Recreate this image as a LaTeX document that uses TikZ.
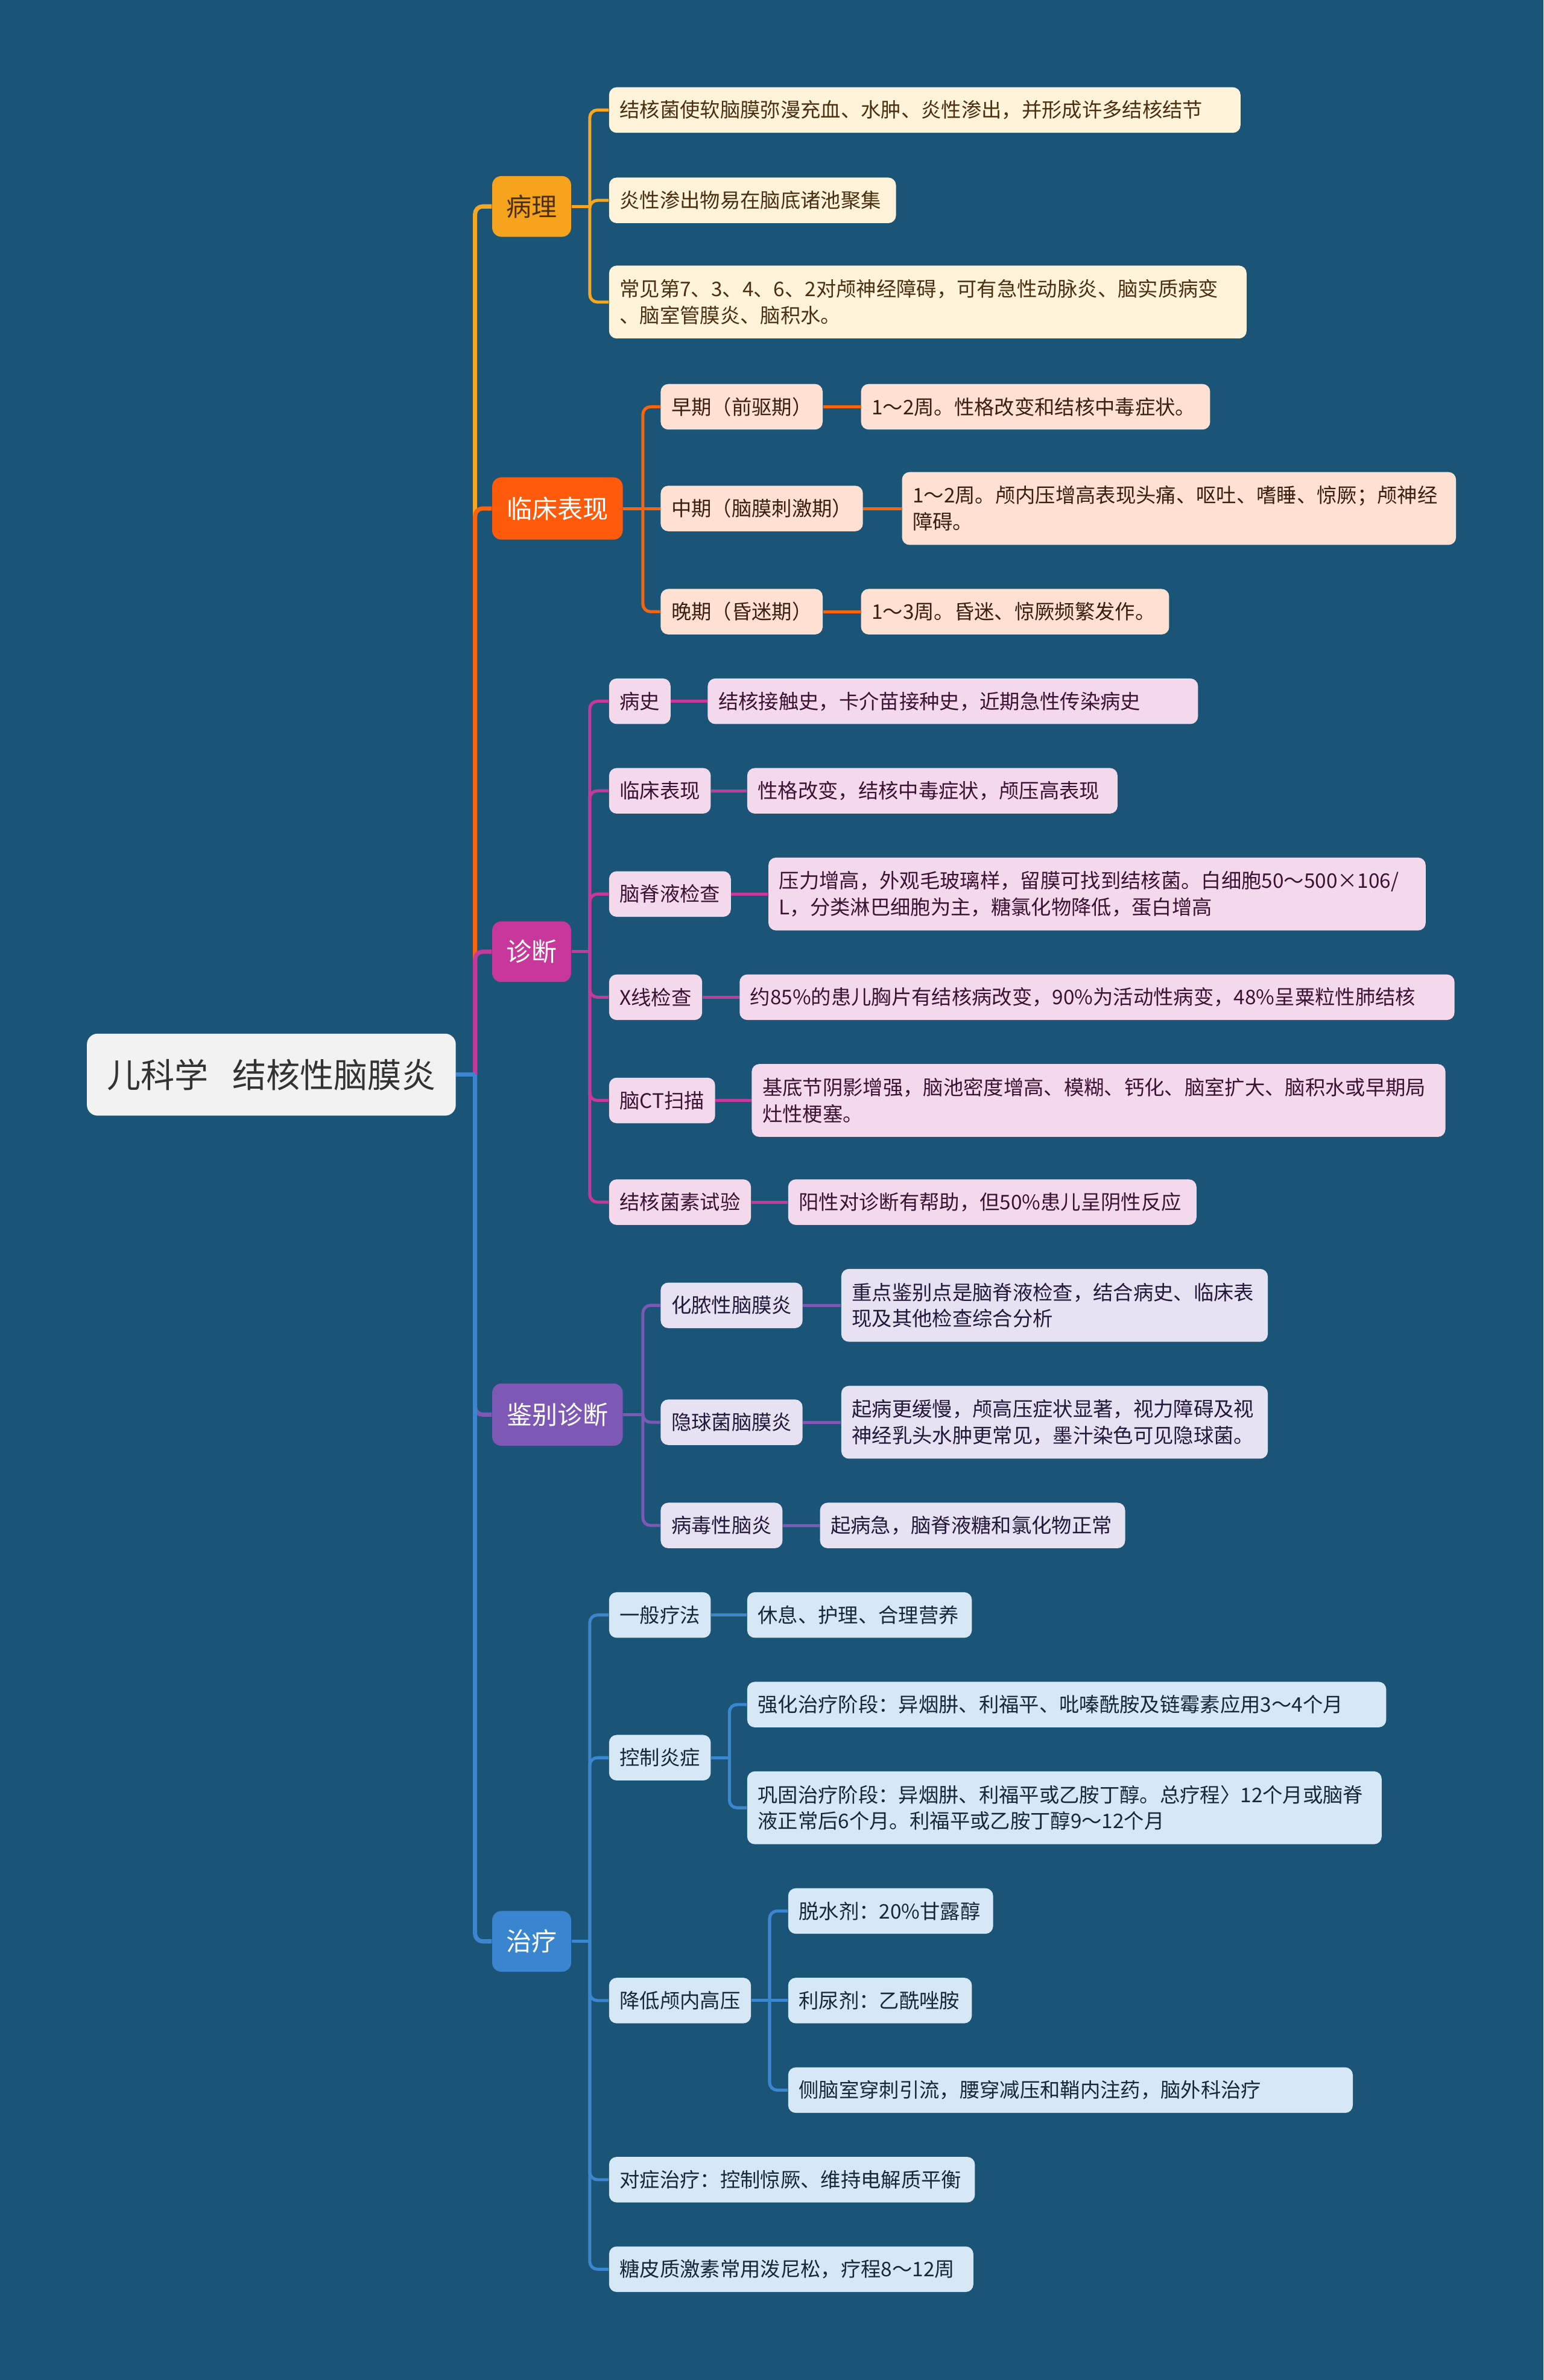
\documentclass[tikz,border=0pt]{standalone}
\usepackage{fontspec}
\newfontfamily\cjkfont{Noto Sans CJK SC}
\usetikzlibrary{calc}
\definecolor{mapbg}{HTML}{1A5477}
\definecolor{rootfill}{HTML}{F2F2F2}
\definecolor{roottxt}{HTML}{333333}
\definecolor{goldtop}{HTML}{F6A41E}
\definecolor{goldline}{HTML}{F5A623}
\definecolor{goldleaf}{HTML}{FFF3D9}
\definecolor{goldtxt}{HTML}{4A3010}
\definecolor{orangetop}{HTML}{FE5A0B}
\definecolor{orangeline}{HTML}{F9640F}
\definecolor{orangeleaf}{HTML}{FEE1D3}
\definecolor{orangetxt}{HTML}{3A1E10}
\definecolor{pinktop}{HTML}{C8379A}
\definecolor{pinkline}{HTML}{C43A9B}
\definecolor{pinkleaf}{HTML}{F4D9EC}
\definecolor{pinktxt}{HTML}{3A1232}
\definecolor{violettop}{HTML}{7D58B4}
\definecolor{violetline}{HTML}{7D58B4}
\definecolor{violetleaf}{HTML}{E7E2F1}
\definecolor{violettxt}{HTML}{22183A}
\definecolor{bluetop}{HTML}{3A85CF}
\definecolor{blueline}{HTML}{3C86D0}
\definecolor{blueleaf}{HTML}{D6E7F6}
\definecolor{bluetxt}{HTML}{15283A}
\newlength\px
\setlength\px{0.0252cm}

\begin{document}
\begin{tikzpicture}[x=0.0252cm,y=-0.0252cm,
  box/.style={rounded corners=5\px,anchor=west,inner xsep=7\px,inner ysep=2\px,
              minimum height=30\px,align=left,
              font=\cjkfont\fontsize{9.5}{12.5}\selectfont},
  topic/.style={rounded corners=6\px,anchor=west,minimum height=40\px,
                font=\cjkfont\fontsize{12}{14}\selectfont,text=white},
  gold/.style={box,fill=goldleaf,text=goldtxt},
  orange/.style={box,fill=orangeleaf,text=orangetxt},
  pink/.style={box,fill=pinkleaf,text=pinktxt},
  violet/.style={box,fill=violetleaf,text=violettxt},
  blue/.style={box,fill=blueleaf,text=bluetxt},
  link/.style={line width=2pt,rounded corners=5\px},
  sublink/.style={line width=1.45pt,rounded corners=5\px}]
  \fill[mapbg] (0,0) rectangle (1017,1568);
  \useasboundingbox (0,0) rectangle (1017,1568);

  % centre
  \node[rounded corners=7\px,anchor=west,fill=rootfill,text=roottxt,
        minimum width=243\px,minimum height=54\px,
        font=\cjkfont\fontsize{16}{19}\selectfont] (root) at (57,708)
    {儿科学\hspace{0.7em}结核性脑膜炎};
  \coordinate (spine) at (313,708);

  % main topics
  \node[topic,fill=goldtop,text=goldtxt,minimum width=52\px] (pl) at (324,136) {病理};
  \node[topic,fill=orangetop,minimum width=86\px,minimum height=41\px] (cl) at (324,335) {临床表现};
  \node[topic,fill=pinktop,minimum width=52\px] (zd) at (324,627) {诊断};
  \node[topic,fill=violettop,minimum width=86\px,minimum height=41\px] (jb) at (324,932) {鉴别诊断};
  \node[topic,fill=bluetop,minimum width=52\px] (zl) at (324,1279) {治疗};

  % pathology
  \node[gold,text width=402\px] (pl1) at (401,72.5)
    {结核菌使软脑膜弥漫充血、水肿、炎性渗出，并形成许多结核结节};
  \node[gold,text width=175\px] (pl2) at (401,132) {炎性渗出物易在脑底诸池聚集};
  \node[gold,text width=406\px,minimum height=48\px] (pl3) at (401,199)
    {常见第7、3、4、6、2对颅神经障碍，可有急性动脉炎、脑实质病变\\
     、脑室管膜炎、脑积水。};

  % clinical stages
  \node[orange] (cl1) at (435,268) {早期（前驱期）};
  \node[orange,text width=216\px] (cl1a) at (567,268) {1～2周。性格改变和结核中毒症状。};
  \node[orange] (cl2) at (435,335) {中期（脑膜刺激期）};
  \node[orange,text width=351\px,minimum height=48\px] (cl2a) at (594,335)
    {1～2周。颅内压增高表现头痛、呕吐、嗜睡、惊厥；颅神经\\障碍。};
  \node[orange] (cl3) at (435,403) {晚期（昏迷期）};
  \node[orange,text width=189\px] (cl3a) at (567,403) {1～3周。昏迷、惊厥频繁发作。};

  % diagnosis
  \node[pink] (zd1) at (401,462) {病史};
  \node[pink,text width=309\px] (zd1a) at (466,462) {结核接触史，卡介苗接种史，近期急性传染病史};
  \node[pink] (zd2) at (401,521) {临床表现};
  \node[pink,text width=230\px] (zd2a) at (492,521) {性格改变，结核中毒症状，颅压高表现};
  \node[pink] (zd3) at (401,589) {脑脊液检查};
  \node[pink,text width=419\px,minimum height=48\px] (zd3a) at (506,589)
    {压力增高，外观毛玻璃样，留膜可找到结核菌。白细胞50～500×106/\\
     L，分类淋巴细胞为主，糖氯化物降低，蛋白增高};
  \node[pink] (zd4) at (401,657) {X线检查};
  \node[pink,text width=457\px] (zd4a) at (487,657)
    {约85\%的患儿胸片有结核病改变，90\%为活动性病变，48\%呈粟粒性肺结核};
  \node[pink] (zd5) at (401,725) {脑CT扫描};
  \node[pink,text width=443\px,minimum height=48\px] (zd5a) at (495,725)
    {基底节阴影增强，脑池密度增高、模糊、钙化、脑室扩大、脑积水或早期局\\灶性梗塞。};
  \node[pink] (zd6) at (401,792) {结核菌素试验};
  \node[pink,text width=255\px] (zd6a) at (519,792) {阳性对诊断有帮助，但50\%患儿呈阴性反应};

  % differential diagnosis
  \node[violet] (jb1) at (435,860) {化脓性脑膜炎};
  \node[violet,text width=267\px,minimum height=48\px] (jb1a) at (554,860)
    {重点鉴别点是脑脊液检查，结合病史、临床表\\现及其他检查综合分析};
  \node[violet] (jb2) at (435,937) {隐球菌脑膜炎};
  \node[violet,text width=267\px,minimum height=48\px] (jb2a) at (554,937)
    {起病更缓慢，颅高压症状显著，视力障碍及视\\神经乳头水肿更常见，墨汁染色可见隐球菌。};
  \node[violet] (jb3) at (435,1005) {病毒性脑炎};
  \node[violet,text width=187\px] (jb3a) at (540,1005) {起病急，脑脊液糖和氯化物正常};

  % treatment
  \node[blue] (zl1) at (401,1064) {一般疗法};
  \node[blue,text width=134\px] (zl1a) at (492,1064) {休息、护理、合理营养};
  \node[blue] (zl2) at (401,1158) {控制炎症};
  \node[blue,text width=407\px] (zl2a) at (492,1123)
    {强化治疗阶段：异烟肼、利福平、吡嗪酰胺及链霉素应用3～4个月};
  \node[blue,text width=404\px,minimum height=48\px] (zl2b) at (492,1191)
    {巩固治疗阶段：异烟肼、利福平或乙胺丁醇。总疗程〉12个月或脑脊\\
     液正常后6个月。利福平或乙胺丁醇9～12个月};
  \node[blue] (zl3) at (401,1318) {降低颅内高压};
  \node[blue,text width=121\px] (zl3a) at (519,1259) {脱水剂：20\%甘露醇};
  \node[blue,text width=107\px] (zl3b) at (519,1318) {利尿剂：乙酰唑胺};
  \node[blue,text width=358\px] (zl3c) at (519,1377)
    {侧脑室穿刺引流，腰穿减压和鞘内注药，脑外科治疗};
  \node[blue,text width=227\px] (zl4) at (401,1436) {对症治疗：控制惊厥、维持电解质平衡};
  \node[blue,text width=226\px] (zl5) at (401,1495) {糖皮质激素常用泼尼松，疗程8～12周};

  % trunk
  \draw[link,goldline] (spine) |- (pl.west);
  \draw[link,orangeline] (spine) |- (cl.west);
  \draw[link,pinkline] (spine) |- (zd.west);
  \draw[link,violetline] (spine) |- (jb.west);
  \draw[link,blueline] (spine) |- (zl.west);
  \draw[link,blueline] (root.east) -- (spine);

  % pathology links
  \coordinate (plm) at ($(pl.east)+(12,0)$);
  \draw[sublink,goldline] (pl.east) -- (plm);
  \draw[sublink,goldline] (plm) |- (pl1.west);
  \draw[sublink,goldline] (plm) |- (pl2.west);
  \draw[sublink,goldline] (plm) |- (pl3.west);

  % clinical links
  \coordinate (clm) at ($(cl.east)+(13,0)$);
  \draw[sublink,orangeline] (cl.east) -- (clm);
  \draw[sublink,orangeline] (clm) |- (cl1.west);
  \draw[sublink,orangeline] (clm) -- (cl2.west);
  \draw[sublink,orangeline] (clm) |- (cl3.west);
  \draw[sublink,orangeline] (cl1.east) -- (cl1a.west);
  \draw[sublink,orangeline] (cl2.east) -- (cl2a.west);
  \draw[sublink,orangeline] (cl3.east) -- (cl3a.west);

  % diagnosis links
  \coordinate (zdm) at ($(zd.east)+(12,0)$);
  \draw[sublink,pinkline] (zd.east) -- (zdm);
  \draw[sublink,pinkline] (zdm) |- (zd1.west);
  \draw[sublink,pinkline] (zdm) |- (zd2.west);
  \draw[sublink,pinkline] (zdm) |- (zd3.west);
  \draw[sublink,pinkline] (zdm) |- (zd4.west);
  \draw[sublink,pinkline] (zdm) |- (zd5.west);
  \draw[sublink,pinkline] (zdm) |- (zd6.west);
  \draw[sublink,pinkline] (zd1.east) -- (zd1a.west);
  \draw[sublink,pinkline] (zd2.east) -- (zd2a.west);
  \draw[sublink,pinkline] (zd3.east) -- (zd3a.west);
  \draw[sublink,pinkline] (zd4.east) -- (zd4a.west);
  \draw[sublink,pinkline] (zd5.east) -- (zd5a.west);
  \draw[sublink,pinkline] (zd6.east) -- (zd6a.west);

  % differential links
  \coordinate (jbm) at ($(jb.east)+(13,0)$);
  \draw[sublink,violetline] (jb.east) -- (jbm);
  \draw[sublink,violetline] (jbm) |- (jb1.west);
  \draw[sublink,violetline] (jbm) |- (jb2.west);
  \draw[sublink,violetline] (jbm) |- (jb3.west);
  \draw[sublink,violetline] (jb1.east) -- (jb1a.west);
  \draw[sublink,violetline] (jb2.east) -- (jb2a.west);
  \draw[sublink,violetline] (jb3.east) -- (jb3a.west);

  % treatment links
  \coordinate (zlm) at ($(zl.east)+(12,0)$);
  \draw[sublink,blueline] (zl.east) -- (zlm);
  \draw[sublink,blueline] (zlm) |- (zl1.west);
  \draw[sublink,blueline] (zlm) |- (zl2.west);
  \draw[sublink,blueline] (zlm) |- (zl3.west);
  \draw[sublink,blueline] (zlm) |- (zl4.west);
  \draw[sublink,blueline] (zlm) |- (zl5.west);
  \draw[sublink,blueline] (zl1.east) -- (zl1a.west);
  \coordinate (zl2m) at ($(zl2.east)+(12,0)$);
  \draw[sublink,blueline] (zl2.east) -- (zl2m);
  \draw[sublink,blueline] (zl2m) |- (zl2a.west);
  \draw[sublink,blueline] (zl2m) |- (zl2b.west);
  \coordinate (zl3m) at ($(zl3.east)+(12,0)$);
  \draw[sublink,blueline] (zl3.east) -- (zl3m);
  \draw[sublink,blueline] (zl3m) |- (zl3a.west);
  \draw[sublink,blueline] (zl3m) -- (zl3b.west);
  \draw[sublink,blueline] (zl3m) |- (zl3c.west);
\end{tikzpicture}
\end{document}
